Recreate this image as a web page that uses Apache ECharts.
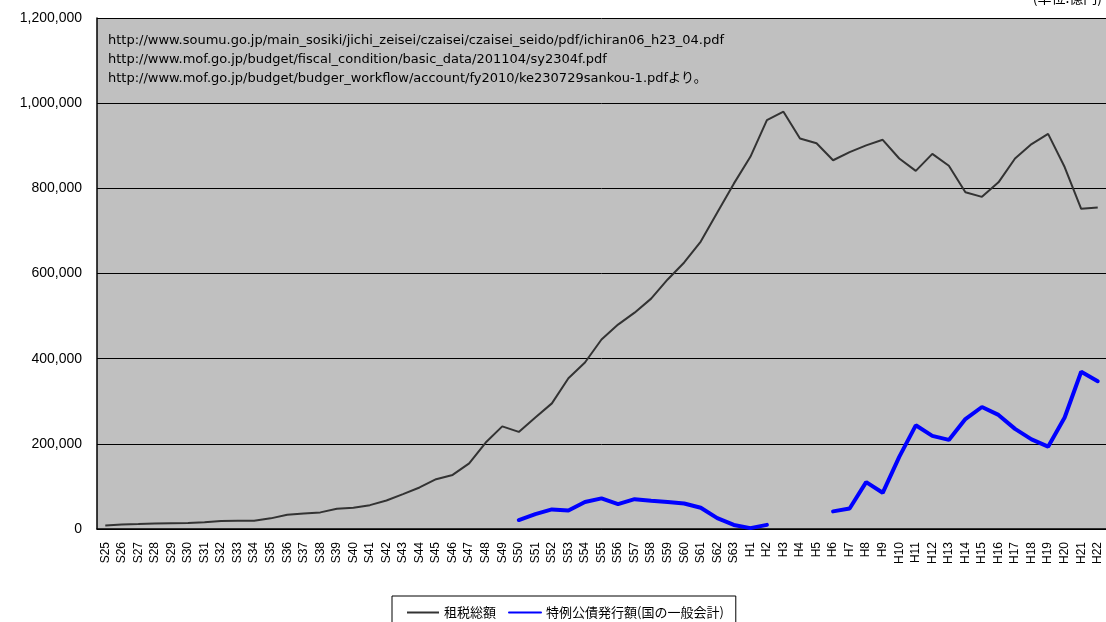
<!DOCTYPE html>
<html>
<head>
<meta charset="utf-8">
<style>
    html, body { margin: 0; padding: 0; background: #fff; }
    #taxchart { width: 1106px; height: 622px; }
</style>
<script src="https://cdn.jsdelivr.net/npm/echarts@6/dist/echarts.min.js"></script>
</head>
<body>
<div id="taxchart"></div>
<script>
    // 年度ラベル
    var years = ['S25','S26','S27','S28','S29','S30','S31','S32','S33','S34',
        'S35','S36','S37','S38','S39','S40','S41','S42','S43','S44',
        'S45','S46','S47','S48','S49','S50','S51','S52','S53','S54',
        'S55','S56','S57','S58','S59','S60','S61','S62','S63',
        'H1','H2','H3','H4','H5','H6','H7','H8','H9','H10',
        'H11','H12','H13','H14','H15','H16','H17','H18','H19','H20','H21','H22'];

    // 租税総額 (億円)
    var taxTotal = [8000, 10500, 11500, 13000, 13500, 14000, 16000, 19000, 19500, 19500,
        25000, 33500, 36500, 39000, 47500, 50000, 56000, 67000, 82000, 97500,
        117000, 127000, 154000, 203000, 241000, 228000, 262000, 295000, 354000, 391000,
        445000, 480000, 508000, 541000, 586000, 626000, 675000, 743000, 811000,
        874000, 960000, 980000, 917000, 906000, 866000, 885000, 901000, 914000, 870000,
        841000, 881000, 853000, 791000, 780000, 814000, 870000, 904000, 928000, 850000, 752000, 755000];

    // 特例公債発行額 (国の一般会計)
    var deficitBond = [null, null, null, null, null, null, null, null, null, null,
        null, null, null, null, null, null, null, null, null, null,
        null, null, null, null, null, 21000, 35000, 46000, 43500, 63500,
        72000, 58500, 70000, 66500, 63500, 60000, 50000, 25500, 9500,
        2000, 9700, null, null, null, 41400, 48000, 110000, 85000, 169500,
        243500, 218700, 209200, 258200, 286500, 267900, 235100, 210500, 193400, 261900, 369400, 347000];

    var yTicks = [0, 200000, 400000, 600000, 800000, 1000000, 1200000];

    var sources = [
        'http://www.soumu.go.jp/main_sosiki/jichi_zeisei/czaisei/czaisei_seido/pdf/ichiran06_h23_04.pdf',
        'http://www.mof.go.jp/budget/fiscal_condition/basic_data/201104/sy2304f.pdf',
        'http://www.mof.go.jp/budget/budger_workflow/account/fy2010/ke230729sankou-1.pdfより。'
    ];

    var chart = echarts.init(document.getElementById('taxchart'));

    var option = {
        animation: false,
        textStyle: {
            fontFamily: '"Liberation Sans", "Noto Sans CJK JP", sans-serif'
        },
        grid: {
            left: 97,
            right: -4,
            top: 18,
            bottom: 93,
            show: true,
            backgroundColor: '#C0C0C0',
            borderWidth: 0
        },
        legend: {
            top: 596,
            left: 392,
            data: ['租税総額', '特例公債発行額(国の一般会計)'],
            backgroundColor: '#fff',
            borderColor: '#000',
            borderWidth: 1,
            padding: [10, 12, 10, 14],
            itemGap: 12,
            itemWidth: 32,
            itemHeight: 14,
            itemStyle: { color: 'rgba(0,0,0,0)', borderWidth: 0, opacity: 0 },
            textStyle: {
                color: '#000',
                fontSize: 13,
                fontFamily: '"Noto Sans CJK JP", sans-serif'
            }
        },
        graphic: [
            {
                type: 'text',
                right: 4,
                top: -9,
                style: {
                    text: '(単位:億円)',
                    fill: '#000',
                    font: '14px "Noto Sans CJK JP", sans-serif'
                }
            },
            {
                type: 'text',
                left: 108,
                top: 31,
                style: {
                    text: sources.join('\n'),
                    fill: '#000',
                    lineHeight: 19,
                    font: '13px "DejaVu Sans", "Noto Sans CJK JP", sans-serif'
                }
            }
        ],
        xAxis: {
            type: 'category',
            data: years,
            boundaryGap: true,
            axisLine: { lineStyle: { color: '#000', width: 1.5 } },
            axisTick: { inside: true, length: 4, lineStyle: { color: '#000' } },
            axisLabel: {
                rotate: 90,
                interval: 0,
                margin: 13,
                color: '#000',
                fontSize: 12
            }
        },
        yAxis: {
            type: 'value',
            min: 0,
            max: yTicks[yTicks.length - 1],
            interval: 200000,
            axisLine: { show: true, lineStyle: { color: '#000', width: 1.5 } },
            axisTick: { show: false },
            axisLabel: {
                color: '#000',
                fontSize: 14,
                margin: 15,
                formatter: function (v) {
                    return v.toString().replace(/\B(?=(\d{3})+(?!\d))/g, ',');
                }
            },
            splitLine: { lineStyle: { color: '#000', width: 1 } }
        },
        series: [
            {
                name: '租税総額',
                type: 'line',
                data: taxTotal,
                symbol: 'none',
                color: '#333333',
                lineStyle: { width: 2, color: '#333333' }
            },
            {
                name: '特例公債発行額(国の一般会計)',
                type: 'line',
                data: deficitBond,
                symbol: 'none',
                connectNulls: false,
                color: '#0000FF',
                lineStyle: { width: 4, color: '#0000FF', cap: 'round' }
            }
        ]
    };

    chart.setOption(option);
</script>
</body>
</html>
